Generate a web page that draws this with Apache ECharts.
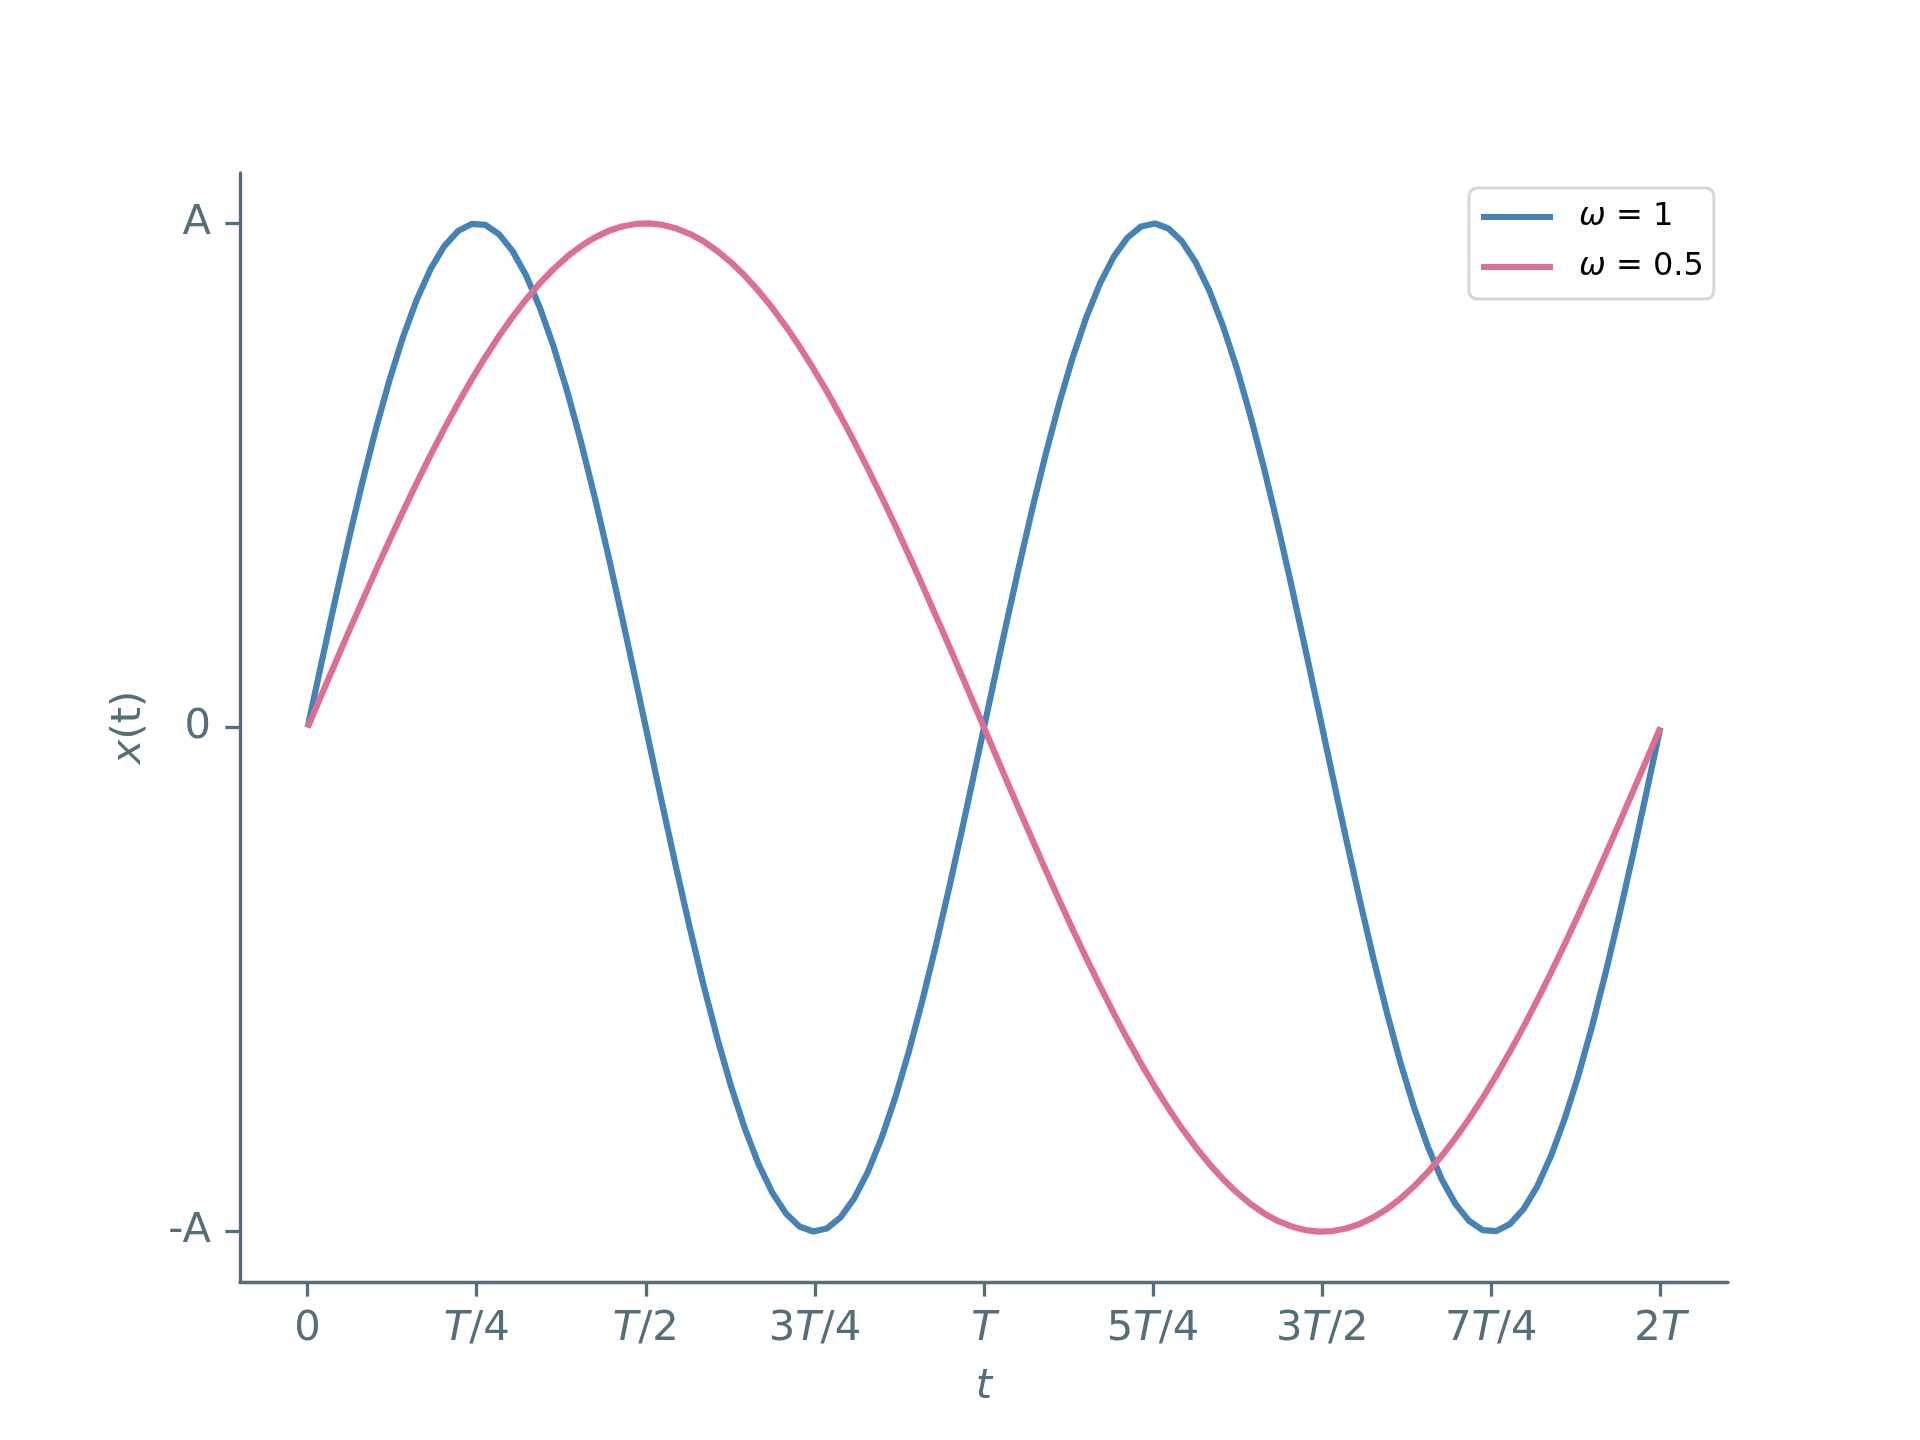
<!DOCTYPE html>
<html>
<head>
<meta charset="utf-8">
<script src="https://cdn.jsdelivr.net/npm/echarts@6/dist/echarts.min.js"></script>
<style>
    html, body { margin: 0; padding: 0; background: #fff; }
    #chart { width: 1920px; height: 1440px; }
</style>
</head>
<body>
<div id="chart"></div>
<script>
    // sample index 0..99 runs over t = 0 .. 2T
    var omega1 = [
        0, 0.1266, 0.2511, 0.3717, 0.4862, 0.5929, 0.6901, 0.7761, 0.8497, 0.9096,
        0.9549, 0.9848, 0.9989, 0.9969, 0.9788, 0.9450, 0.8960, 0.8326, 0.7557, 0.6668,
        0.5671, 0.4582, 0.3420, 0.2203, 0.0951, -0.0317, -0.1580, -0.2817, -0.4009, -0.5137,
        -0.6182, -0.7127, -0.7958, -0.8660, -0.9224, -0.9639, -0.9898, -0.9999, -0.9938, -0.9718,
        -0.9342, -0.8815, -0.8146, -0.7346, -0.6428, -0.5406, -0.4298, -0.3120, -0.1893, -0.0634,
        0.0634, 0.1893, 0.3120, 0.4298, 0.5406, 0.6428, 0.7346, 0.8146, 0.8815, 0.9342,
        0.9718, 0.9938, 0.9999, 0.9898, 0.9639, 0.9224, 0.8660, 0.7958, 0.7127, 0.6182,
        0.5137, 0.4009, 0.2817, 0.1580, 0.0317, -0.0951, -0.2203, -0.3420, -0.4582, -0.5671,
        -0.6668, -0.7557, -0.8326, -0.8960, -0.9450, -0.9788, -0.9969, -0.9989, -0.9848, -0.9549,
        -0.9096, -0.8497, -0.7761, -0.6901, -0.5929, -0.4862, -0.3717, -0.2511, -0.1266, 0
    ];
    var omega05 = [
        0, 0.0634, 0.1266, 0.1893, 0.2511, 0.3120, 0.3717, 0.4298, 0.4862, 0.5406,
        0.5929, 0.6428, 0.6901, 0.7346, 0.7761, 0.8146, 0.8497, 0.8815, 0.9096, 0.9342,
        0.9549, 0.9718, 0.9848, 0.9938, 0.9989, 0.9999, 0.9969, 0.9898, 0.9788, 0.9639,
        0.9450, 0.9224, 0.8960, 0.8660, 0.8326, 0.7958, 0.7557, 0.7127, 0.6668, 0.6182,
        0.5671, 0.5137, 0.4582, 0.4009, 0.3420, 0.2817, 0.2203, 0.1580, 0.0951, 0.0317,
        -0.0317, -0.0951, -0.1580, -0.2203, -0.2817, -0.3420, -0.4009, -0.4582, -0.5137, -0.5671,
        -0.6182, -0.6668, -0.7127, -0.7557, -0.7958, -0.8326, -0.8660, -0.8960, -0.9224, -0.9450,
        -0.9639, -0.9788, -0.9898, -0.9969, -0.9999, -0.9989, -0.9938, -0.9848, -0.9718, -0.9549,
        -0.9342, -0.9096, -0.8815, -0.8497, -0.8146, -0.7761, -0.7346, -0.6901, -0.6428, -0.5929,
        -0.5406, -0.4862, -0.4298, -0.3717, -0.3120, -0.2511, -0.1893, -0.1266, -0.0634, 0
    ];
    var seriesNames = ['ω = 1', 'ω = 0.5'];

    // x ticks (in sample index units) and their labels
    var xTicks = [0, 12.375, 24.75, 37.125, 49.5, 61.875, 74.25, 86.625, 99];
    var xTickLabels = ['0', '{i|T}/4', '{i|T}/2', '3{i|T}/4', '{i|T}', '5{i|T}/4', '3{i|T}/2', '7{i|T}/4', '2{i|T}'];
    var yTicks = [-1, 0, 1];
    var yTickLabels = ['-A', '0', 'A'];

    var axisColor = '#546e7a';
    var font = 'DejaVu Sans';

    var toPoints = function(arr) {
        return arr.map((v, i) => [i, v]);
    };

    var chart = echarts.init(document.getElementById('chart'), null, { renderer: 'canvas' });

    var option = {
        backgroundColor: '#ffffff',
        animation: false,
        grid: {
            left: 240,
            right: 192,
            top: 173,
            bottom: 158
        },
        legend: {
            orient: 'vertical',
            left: 1469,
            top: 188,
            padding: [13, 10, 16, 12],
            itemGap: 18,
            itemWidth: 72,
            itemHeight: 6,
            icon: 'rect',
            backgroundColor: '#ffffff',
            borderColor: '#d6d6d6',
            borderWidth: 3,
            borderRadius: 8,
            textStyle: {
                fontFamily: font,
                fontSize: 32,
                color: '#000000',
                padding: [0, 0, 0, 21],
                rich: {
                    i: { fontFamily: font, fontSize: 32, fontStyle: 'italic', color: '#000000' }
                }
            },
            formatter: function(name) {
                return name.replace('ω', '{i|ω}');
            },
            data: seriesNames
        },
        xAxis: {
            type: 'value',
            min: -4.95,
            max: 103.95,
            name: 't',
            nameLocation: 'middle',
            nameGap: 84,
            nameTextStyle: {
                fontFamily: font,
                fontSize: 41.7,
                fontStyle: 'italic',
                color: axisColor
            },
            splitLine: { show: false },
            axisLine: { show: true, onZero: false, lineStyle: { color: axisColor, width: 3.3 } },
            axisTick: {
                show: true,
                customValues: xTicks,
                length: 14.6,
                lineStyle: { color: axisColor, width: 3.3 }
            },
            axisLabel: {
                customValues: xTicks,
                margin: 26,
                fontFamily: font,
                fontSize: 41.7,
                color: axisColor,
                rich: {
                    i: { fontFamily: font, fontSize: 41.7, fontStyle: 'italic', color: axisColor }
                },
                formatter: function(v) {
                    var k = xTicks.indexOf(v);
                    return k >= 0 ? xTickLabels[k] : '';
                }
            }
        },
        yAxis: {
            type: 'value',
            min: -1.1,
            max: 1.1,
            name: '{i|x}(t)',
            nameLocation: 'middle',
            nameRotate: 90,
            nameGap: 90,
            nameTextStyle: {
                fontFamily: font,
                fontSize: 41.7,
                color: axisColor,
                rich: {
                    i: { fontFamily: font, fontSize: 41.7, fontStyle: 'italic', color: axisColor }
                }
            },
            splitLine: { show: false },
            axisLine: { show: true, onZero: false, lineStyle: { color: axisColor, width: 3.3 } },
            axisTick: {
                show: true,
                customValues: yTicks,
                length: 14.6,
                lineStyle: { color: axisColor, width: 3.3 }
            },
            axisLabel: {
                customValues: yTicks,
                margin: 29,
                fontFamily: font,
                fontSize: 41.7,
                color: axisColor,
                formatter: function(v) {
                    var k = yTicks.indexOf(v);
                    return k >= 0 ? yTickLabels[k] : '';
                }
            }
        },
        series: [{
            name: seriesNames[0],
            type: 'line',
            data: toPoints(omega1),
            symbol: 'none',
            lineStyle: { color: '#4682b4', width: 6.25 },
            itemStyle: { color: '#4682b4' }
        }, {
            name: seriesNames[1],
            type: 'line',
            data: toPoints(omega05),
            symbol: 'none',
            lineStyle: { color: '#db7093', width: 6.25 },
            itemStyle: { color: '#db7093' }
        }]
    };

    chart.setOption(option);
</script>
</body>
</html>
